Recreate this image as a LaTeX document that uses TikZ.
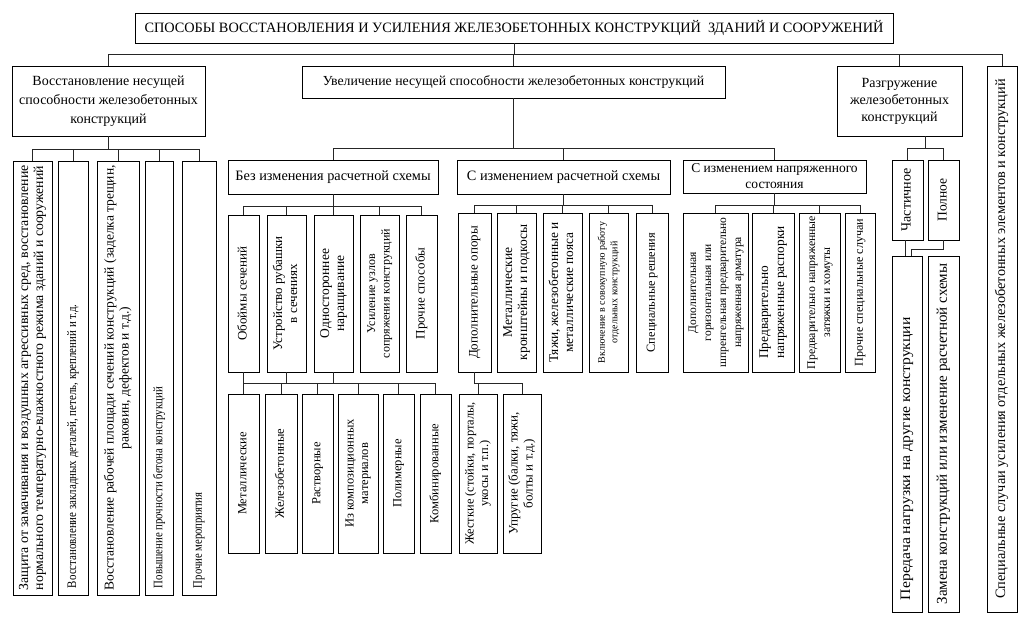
\documentclass[tikz,border=0pt]{standalone}
\usepackage{fontspec}
\setmainfont{Liberation Serif}
\usetikzlibrary{positioning}
\tikzset{
  Block/.style={
    rectangle, draw=black, line width=0.8pt, inner sep=0pt,
    align=center, font=\fontsize{14.3}{17}\selectfont,
  },
  VBlock/.style={rectangle, draw=black, line width=0.8pt, inner sep=0pt},
  Link/.style={draw=black!85, line width=0.8pt},
}
% rotated text: [align] size, skip, lines
\newcommand{\vt}[4][c]{\rotatebox{90}{\fontsize{#2}{#3}\selectfont\begin{tabular}{@{}#1@{}}#4\end{tabular}}}
% rotated text starting at the bottom of the box: size, xscale, length, text
\newcommand{\vtl}[4]{\rotatebox{90}{\fontsize{#1}{15}\selectfont\makebox[#3][l]{\scalebox{#2}[1]{#4}}}}

\begin{document}
\begin{tikzpicture}[x=1pt,y=-1pt]
\useasboundingbox (0,0) rectangle (1024,617);
% top level
\node[Block, minimum width=758pt, minimum height=30pt] (title) at (514,28) {СПОСОБЫ ВОССТАНОВЛЕНИЯ И УСИЛЕНИЯ ЖЕЛЕЗОБЕТОННЫХ КОНСТРУКЦИЙ~ ЗДАНИЙ И СООРУЖЕНИЙ};
\node[Block, minimum width=193pt, minimum height=70pt, font=\fontsize{14}{19}\selectfont] (L1) at (108.5,101) {Восстановление несущей\\способности железобетонных\\конструкций};
\node[Block, minimum width=423pt, minimum height=32pt, font=\fontsize{13.8}{17}\selectfont] (M1) at (513.5,82) {Увеличение несущей способности железобетонных конструкций};
\node[Block, minimum width=125pt, minimum height=70pt, font=\fontsize{14}{17}\selectfont] (R1) at (899.5,101) {Разгружение\\железобетонных\\конструкций};
\node[VBlock, minimum width=30pt, minimum height=546pt] (S1) at (1002,339) {\vt{14.3}{16}{Специальные случаи усиления отдельных железобетонных элементов и конструкций}};

% restoration branch
\node[VBlock, minimum width=39pt, minimum height=434pt] (La) at (32.5,378) {\vt{13.8}{15}{Защита от замачивания и воздушных агрессивных сред, восстановление\\нормального температурно-влажностного режима зданий и сооружений}};
\node[VBlock, minimum width=30pt, minimum height=434pt] (Lb) at (73,378) {\vtl{13}{0.84}{420pt}{Восстановление закладных деталей, петель, креплений и т.д.}};
\node[VBlock, minimum width=42pt, minimum height=434pt] (Lc) at (118,378) {\vt{13.5}{15}{Восстановление рабочей площади сечений конструкций (заделка трещин,\\раковин, дефектов и т.д.)}};
\node[VBlock, minimum width=28pt, minimum height=434pt] (Ld) at (159,378) {\vtl{13}{0.83}{420pt}{Повышение прочности бетона конструкций}};
\node[VBlock, minimum width=34pt, minimum height=434pt] (Le) at (199,378) {\vtl{13}{0.82}{420pt}{Прочие мероприятия}};

% second level
\node[Block, minimum width=210pt, minimum height=34pt] (B1) at (333,177) {Без изменения расчетной схемы};
\node[Block, minimum width=213pt, minimum height=34pt] (C1) at (563.5,177) {С изменением расчетной схемы};
\node[Block, minimum width=183pt, minimum height=33pt, font=\fontsize{13.5}{16}\selectfont] (N1) at (774.5,176.5) {С изменением напряженного\\состояния};

% without change of design scheme
\node[VBlock, minimum width=31pt, minimum height=157pt] (B1a) at (243.5,293.5) {\vt{13}{15}{Обоймы сечений}};
\node[VBlock, minimum width=39pt, minimum height=157pt] (B1b) at (286.5,293.5) {\vt{13}{15}{Устройство рубашки\\в сечениях}};
\node[VBlock, minimum width=39pt, minimum height=157pt] (B1c) at (333.5,293.5) {\vt{13.5}{15}{Одностороннее\\наращивание}};
\node[VBlock, minimum width=39pt, minimum height=157pt] (B1d) at (379.5,293.5) {\vt{12}{14.5}{Усиление узлов\\сопряжения конструкций}};
\node[VBlock, minimum width=31pt, minimum height=157pt] (B1e) at (421.5,293.5) {\vt{13}{15}{Прочие способы}};

\node[VBlock, minimum width=31pt, minimum height=159pt] (Ma) at (243.5,473.5) {\vt{12.5}{14.5}{Металлические}};
\node[VBlock, minimum width=32pt, minimum height=159pt] (Mb) at (281,473.5) {\vt{12.5}{14.5}{Железобетонные}};
\node[VBlock, minimum width=31pt, minimum height=159pt] (Mc) at (317.5,473.5) {\vt{12.5}{14.5}{Растворные}};
\node[VBlock, minimum width=40pt, minimum height=159pt] (Md) at (358,473.5) {\vt{12.5}{14.5}{Из композиционных\\материалов}};
\node[VBlock, minimum width=31pt, minimum height=159pt] (Me) at (398.5,473.5) {\vt{12.5}{14.5}{Полимерные}};
\node[VBlock, minimum width=31pt, minimum height=159pt] (Mf) at (435.5,473.5) {\vt{12.5}{14.5}{Комбинированные}};

% with change of design scheme
\node[VBlock, minimum width=33pt, minimum height=159pt] (C1a) at (474.5,292.5) {\vt{13}{15}{Дополнительные опоры}};
\node[VBlock, minimum width=39pt, minimum height=159pt] (C1b) at (516.5,292.5) {\vt{13.5}{15}{Металлические\\кронштейны и подкосы}};
\node[VBlock, minimum width=39pt, minimum height=159pt] (C1c) at (562.5,292.5) {\vt{13.3}{15}{Тяжи, железобетонные и\\металлические пояса}};
\node[VBlock, minimum width=39pt, minimum height=159pt] (C1d) at (608.5,292.5) {\vt{10}{12.5}{Включение в совокупную работу\\отдельных конструкций}};
\node[VBlock, minimum width=32pt, minimum height=159pt] (C1e) at (652,292.5) {\vt{12.3}{14.5}{Специальные решения}};

\node[VBlock, minimum width=38pt, minimum height=159pt] (Da) at (478,473.5) {\vt{12.4}{14.5}{Жесткие (стойки, порталы,\\укосы и т.п.)}};
\node[VBlock, minimum width=38pt, minimum height=159pt] (Db) at (522,473.5) {\vt{13}{15}{Упругие (балки, тяжи,\\болты и т.д.)}};

% with change of stress state
\node[VBlock, minimum width=65pt, minimum height=159pt] (Na) at (715.5,292.5) {\vt{11.5}{15}{Дополнительная\\горизонтальная или\\шпренгельная предварительно\\напряженная арматура}};
\node[VBlock, minimum width=42pt, minimum height=159pt] (Nb) at (773,292.5) {\vt[l]{13.3}{16}{Предварительно\\напряженные распорки}};
\node[VBlock, minimum width=41pt, minimum height=159pt] (Nc) at (819.5,292.5) {\vt{11.8}{15}{Предварительно напряженные\\затяжки и хомуты}};
\node[VBlock, minimum width=30pt, minimum height=159pt] (Nd) at (860,292.5) {\vt{12.1}{14}{Прочие специальные случаи}};

% unloading
\node[VBlock, minimum width=31pt, minimum height=80pt] (Pa) at (907.5,200) {\vt{14}{15}{Частичное}};
\node[VBlock, minimum width=31pt, minimum height=80pt] (Pb) at (943.5,200) {\vt{13.5}{15}{Полное}};
\node[VBlock, minimum width=30pt, minimum height=356pt] (Qa) at (907,434) {\vtl{14.5}{1.08}{332pt}{Передача нагрузки на другие конструкции}};
\node[VBlock, minimum width=31pt, minimum height=356pt] (Qb) at (943.5,434) {\vt{15}{17}{Замена конструкций или изменение расчетной схемы}};

% connectors
\coordinate (bus0) at (0,54);
\draw[Link] (title.south) -- (title.south |- bus0);
\draw[Link] (L1.north |- bus0) -- (S1.north |- bus0);
\foreach \n in {L1,M1,R1,S1}
  \draw[Link] (\n.north) -- (\n.north |- bus0);

\coordinate (bus1) at (0,149);
\draw[Link] (L1.south) -- (L1.south |- bus1);
\draw[Link] (La.north |- bus1) -- (Le.north |- bus1);
\foreach \n in {La,Lb,Lc,Ld,Le}
  \draw[Link] (\n.north) -- (\n.north |- bus1);

\coordinate (bus2) at (0,148);
\draw[Link] (M1.south) -- (M1.south |- bus2);
\draw[Link] (B1.north |- bus2) -- (N1.north |- bus2);
\foreach \n in {B1,C1,N1}
  \draw[Link] (\n.north) -- (\n.north |- bus2);

\coordinate (bus3) at (0,206);
\draw[Link] (B1.south) -- (B1.south |- bus3);
\draw[Link] (B1a.north |- bus3) -- (B1e.north |- bus3);
\foreach \n in {B1a,B1b,B1c,B1d,B1e}
  \draw[Link] (\n.north) -- (\n.north |- bus3);

\coordinate (bus4) at (0,383);
\draw[Link] (B1a.south |- bus4) -- (Mf.north |- bus4);
\foreach \n in {B1a,B1b,B1c}
  \draw[Link] (\n.south) -- (\n.south |- bus4);
\foreach \n in {Ma,Mb,Mc,Md,Me,Mf}
  \draw[Link] (\n.north) -- (\n.north |- bus4);

\coordinate (bus5) at (0,205);
\draw[Link] (C1.south) -- (C1.south |- bus5);
\draw[Link] (C1a.north |- bus5) -- (C1e.north |- bus5);
\foreach \n in {C1a,C1b,C1c,C1d,C1e}
  \draw[Link] (\n.north) -- (\n.north |- bus5);

\draw[Link] (C1a.south) -- (C1a.south |- bus4) -- (Db.north |- bus4);
\foreach \n in {Da,Db}
  \draw[Link] (\n.north) -- (\n.north |- bus4);

\draw[Link] (N1.south) -- (N1.south |- bus5);
\draw[Link] (Na.north |- bus5) -- (Nd.north |- bus5);
\foreach \n in {Na,Nb,Nc,Nd}
  \draw[Link] (\n.north) -- (\n.north |- bus5);

\coordinate (rbus) at (925,148);
\draw[Link] (rbus) -- (rbus |- R1.south);
\draw[Link] (Pa.north |- rbus) -- (Pb.north |- rbus);
\foreach \n in {Pa,Pb}
  \draw[Link] (\n.north) -- (\n.north |- rbus);
\coordinate (qbus) at (911,249);
\draw[Link] ([xshift=-2pt]Pa.south) -- ([xshift=-2pt]Pa.south |- Qa.north);
\draw[Link] (Pb.south) |- (qbus) -- (qbus |- Qa.north);
\end{tikzpicture}
\end{document}
